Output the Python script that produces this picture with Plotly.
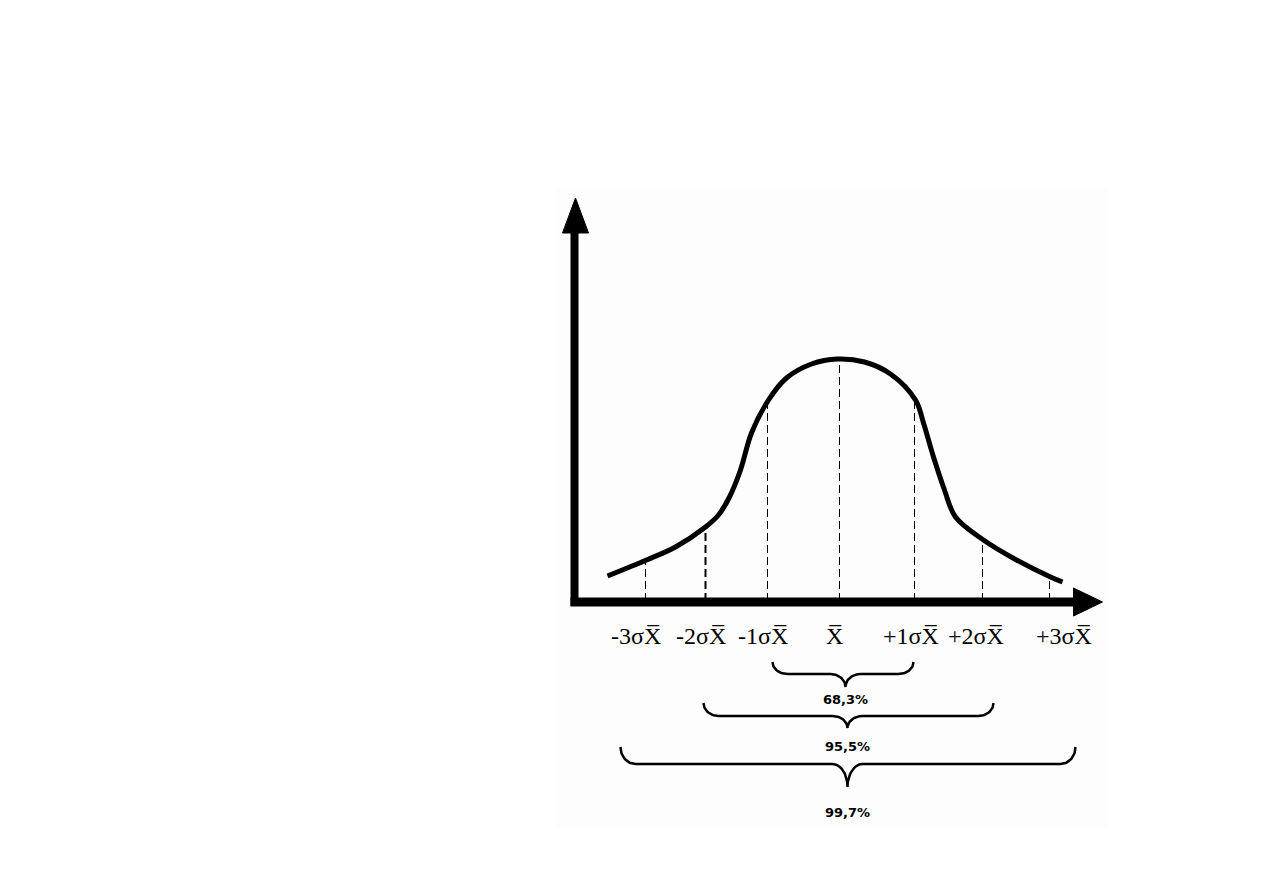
import numpy as np
import plotly.graph_objects as go

# Coordinates: x = distance right of the vertical axis,
# y = height above the horizontal axis (both in picture pixels).
curve_x = [33, 72, 101, 131, 144, 155, 166, 177, 194, 212, 237, 263, 290, 316, 341, 349, 359, 370, 381, 409, 442, 476, 488]
curve_y = [25, 41, 54, 74, 86, 104, 131, 168, 201, 223, 237, 242, 239, 227, 201, 178, 144, 111, 84, 61, 41, 24, 19]

sigma_x = [71, 131, 193, 265, 340, 408, 475]
sigma_labels = ["-3σX\u0305", "-2σX\u0305", "-1σX\u0305", "X\u0305", "+1σX\u0305", "+2σX\u0305", "+3σX\u0305"]
label_x = [61, 126, 188, 260, 336, 401, 489]
label_y = -35

brace_left = [198, 129, 46]
brace_right = [339, 419, 501]
brace_center = [271, 273, 273]
brace_top = [-61, -102, -146]
brace_mid = [-73, -115, -163]
brace_tip = [-86, -127, -186]
pct_labels = ["68,3%", "95,5%", "99,7%"]
pct_y = [-98, -145, -211]

fig = go.Figure()

# faint background panel
fig.add_shape(type="rect", x0=-19, y0=413, x1=534, y1=-227,
              fillcolor="#fdfdfd", line=dict(width=0), layer="below")

# dashed verticals from curve down to the axis
top_y = np.interp(sigma_x, curve_x, curve_y)
for i, (sx, ty) in enumerate(zip(sigma_x, top_y)):
    fig.add_trace(go.Scatter(x=[sx, sx], y=[0, ty], mode="lines",
                             line=dict(color="black", width=2 if i == 1 else 1, dash="8px,4px"),
                             showlegend=False, hoverinfo="skip"))

# curve
fig.add_trace(go.Scatter(x=curve_x, y=curve_y, mode="lines",
                         line=dict(color="black", width=5, shape="spline", smoothing=1.0),
                         showlegend=False, hoverinfo="skip"))

# axes (thick arrows)
fig.add_trace(go.Scatter(x=[0, 0], y=[-5, 370], mode="lines",
                         line=dict(color="black", width=8), showlegend=False, hoverinfo="skip"))
fig.add_trace(go.Scatter(x=[-12, 1, 14, -12], y=[368, 403, 368, 368], mode="lines", fill="toself",
                         fillcolor="black", line=dict(color="black", width=1),
                         showlegend=False, hoverinfo="skip"))
fig.add_trace(go.Scatter(x=[-4, 501], y=[-1, -1], mode="lines",
                         line=dict(color="black", width=9), showlegend=False, hoverinfo="skip"))
fig.add_trace(go.Scatter(x=[499, 528, 499, 499], y=[13, -1, -15, 13], mode="lines", fill="toself",
                         fillcolor="black", line=dict(color="black", width=1),
                         showlegend=False, hoverinfo="skip"))

# braces
def brace(L, R, C, top, mid, tip, r=15):
    t = np.linspace(0, np.pi / 2, 20)
    xs, ys = [], []
    xs += list(L + r * (1 - np.cos(t))); ys += list(mid + (top - mid) * (1 - np.sin(t)))
    xs += list(C - r + r * np.sin(t)); ys += list(mid + (tip - mid) * (1 - np.cos(t)))
    xs += list(C + r - r * np.sin(t[::-1])); ys += list(mid + (tip - mid) * (1 - np.cos(t[::-1])))
    xs += list(R - r * (1 - np.cos(t[::-1]))); ys += list(mid + (top - mid) * (1 - np.sin(t[::-1])))
    return xs, ys

for L, R, C, tp, md, tip in zip(brace_left, brace_right, brace_center, brace_top, brace_mid, brace_tip):
    bx, by = brace(L, R, C, tp, md, tip)
    fig.add_trace(go.Scatter(x=bx, y=by, mode="lines", line=dict(color="black", width=2.5),
                             showlegend=False, hoverinfo="skip"))

for lx, lab in zip(label_x, sigma_labels):
    fig.add_annotation(x=lx, y=label_y, text=lab, showarrow=False,
                       font=dict(family="Liberation Serif", size=24, color="black"))

for C, lab, py in zip(brace_center, pct_labels, pct_y):
    fig.add_annotation(x=C, y=py, text="<b>" + lab + "</b>", showarrow=False,
                       font=dict(family="DejaVu Sans", size=13, color="black"))

fig.update_layout(
    width=1263, height=893,
    margin=dict(l=0, r=0, t=0, b=0),
    paper_bgcolor="white", plot_bgcolor="white",
    xaxis=dict(range=[-574.5, 688.5], visible=False, fixedrange=True),
    yaxis=dict(range=[-292, 601], visible=False, fixedrange=True),
    showlegend=False,
)

fig.write_html("out.html", config={"displayModeBar": False},
               post_script="document.body.style.margin='0';")
